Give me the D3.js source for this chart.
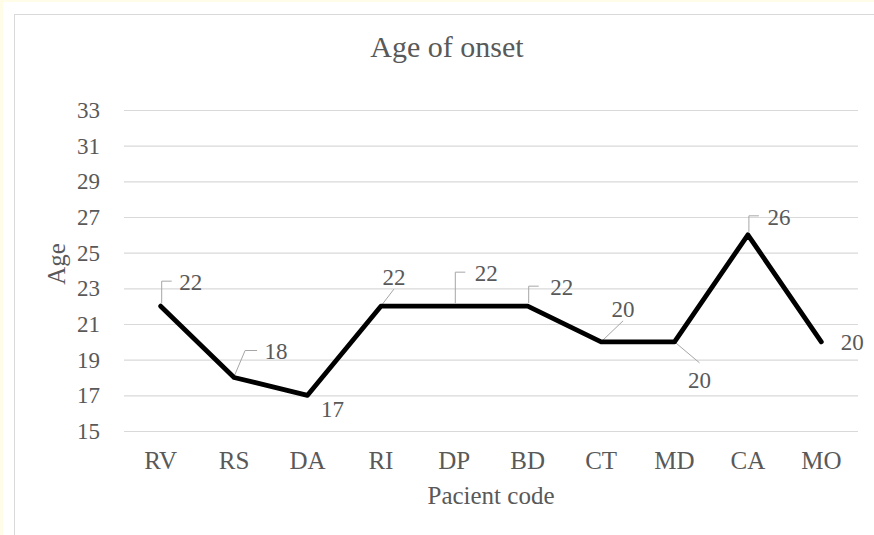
<!DOCTYPE html>
<html>
<head>
<meta charset="utf-8">
<script src="https://cdn.jsdelivr.net/npm/d3@7/dist/d3.min.js"></script>
<style>
  html, body { margin: 0; padding: 0; background: #fffce8; }
  svg { display: block; }
  text { font-family: "Liberation Serif", "Times New Roman", serif; fill: #595959; }
</style>
</head>
<body>
<script>
// ---- data ----
const categories = ["RV", "RS", "DA", "RI", "DP", "BD", "CT", "MD", "CA", "MO"];
const ages = [22, 18, 17, 22, 22, 22, 20, 20, 26, 20];
const yTicks = [15, 17, 19, 21, 23, 25, 27, 29, 31, 33];
const chartTitle = "Age of onset";
const xTitle = "Pacient code";
const yTitle = "Age";

// ---- label placement (offsets from each point, in px) ----
const labelDx = [30, 42, 25, 13, 32, 34, 22, 25, 31, 31];
const labelDy = [-24, -27, 14, -29, -33, -19, -33, 38, -18, 0];
// leader line shapes
const leaderType = ["bracket", "diagH", null, "diag", "bracket", "bracket", "diag", "diag", "bracket", null];

const W = 874, H = 535;
const plot = { left: 124, right: 858, top: 110, bottom: 431 };
const SERIF = "'Liberation Serif', 'Times New Roman', serif";

const svg = d3.select("body").append("svg").attr("width", W).attr("height", H);

// backgrounds
svg.append("rect").attr("x", 3).attr("y", 2).attr("width", W).attr("height", H).attr("fill", "#ffffff");
svg.append("rect").attr("x", 14.5).attr("y", 14.5).attr("width", W + 20).attr("height", H + 20)
  .attr("fill", "#ffffff").attr("stroke", "#d9d9d9").attr("stroke-width", 1);

const x = d3.scaleBand().domain(categories).range([plot.left, plot.right]).paddingInner(0).paddingOuter(0);
const y = d3.scaleLinear().domain([15, 33]).range([plot.bottom, plot.top]);
const cx = c => x(c) + x.bandwidth() / 2;

// y axis with gridlines
const yAxis = svg.append("g").attr("transform", `translate(${plot.left},0)`)
  .call(d3.axisLeft(y).tickValues(yTicks).tickSize(-(plot.right - plot.left)).tickPadding(24).tickFormat(d3.format("d")));
yAxis.select(".domain").remove();
yAxis.selectAll(".tick line").attr("stroke", "#d9d9d9").attr("stroke-width", 1.2);
yAxis.selectAll(".tick text").attr("font-size", 23).attr("fill", "#595959")
  .style("font-family", SERIF).attr("dy", "0.33em");

// x axis
const xAxis = svg.append("g").attr("transform", `translate(0,${plot.bottom})`)
  .call(d3.axisBottom(x).tickSize(0).tickPadding(38));
xAxis.select(".domain").remove();
xAxis.selectAll(".tick text").attr("font-size", 25).attr("fill", "#595959")
  .style("font-family", SERIF).attr("dy", "0");

// titles
svg.append("text").attr("x", 447).attr("y", 57).attr("text-anchor", "middle").attr("font-size", 30)
  .style("font-family", SERIF).text(chartTitle);
svg.append("text").attr("x", (plot.left + plot.right) / 2).attr("y", 504).attr("text-anchor", "middle").attr("font-size", 25)
  .style("font-family", SERIF).text(xTitle);
svg.append("text").attr("transform", "translate(65,264) rotate(-90)").attr("text-anchor", "middle").attr("font-size", 25)
  .style("font-family", SERIF).text(yTitle);

// leader lines
const leaders = svg.append("g").attr("fill", "none").attr("stroke", "#a6a6a6").attr("stroke-width", 1);
categories.forEach((c, i) => {
  const px = cx(c), py = y(ages[i]);
  const lx = px + labelDx[i], ly = py + labelDy[i];
  const t = leaderType[i];
  let pts = null;
  if (t === "bracket") pts = [[px + 1, py - 3], [px + 1, ly - 1], [px + 11, ly - 1]];
  else if (t === "diagH") pts = [[px, py - 1], [px + 11, ly], [px + 23, ly]];
  else if (t === "diag") {
    if (labelDy[i] < 0) pts = [[px, py], [lx, ly + 12]];
    else pts = [[px, py], [lx, ly - 17]];
  }
  if (pts) leaders.append("path").attr("d", d3.line()(pts));
});

// data line
const line = d3.line().x((d, i) => cx(categories[i])).y(d => y(d));
svg.append("path").datum(ages).attr("d", line).attr("fill", "none")
  .attr("stroke", "#000000").attr("stroke-width", 4.8).attr("stroke-linejoin", "round").attr("stroke-linecap", "round");

// data labels
svg.append("g").selectAll("text").data(ages).join("text")
  .attr("x", (d, i) => cx(categories[i]) + labelDx[i])
  .attr("y", (d, i) => y(d) + labelDy[i])
  .attr("dy", "0.35em")
  .attr("text-anchor", "middle")
  .attr("font-size", 23)
  .attr("fill", "#595959")
  .style("font-family", SERIF)
  .text(d => d);
</script>
</body>
</html>
